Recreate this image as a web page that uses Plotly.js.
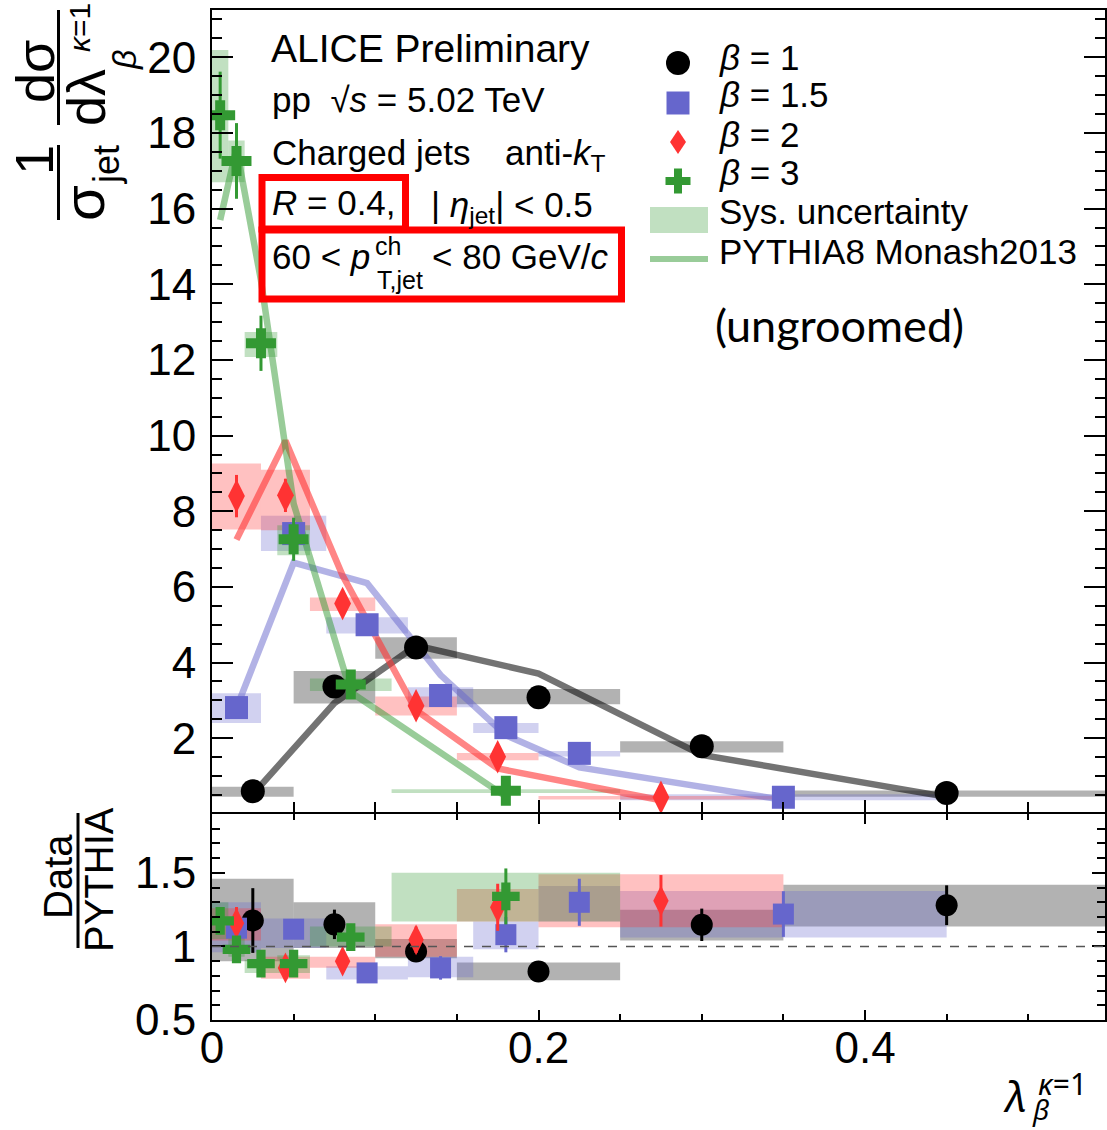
<!DOCTYPE html>
<html><head><meta charset="utf-8">
<script src="https://cdn.plot.ly/plotly-3.0.1.min.js"></script>
<style>html,body{margin:0;padding:0;background:#fff}</style>
</head><body><div id="chart" style="width:1107px;height:1130px"></div>
<script>
// ---------------- data ----------------
// beta = 1
const edgesB1 = [0, 0.05, 0.10, 0.15, 0.25, 0.35, 0.55];
const valB1 = [0.60, 3.37, 4.40, 3.08, 1.79, 0.55];
const errB1 = [0.05, 0.08, 0.08, 0.06, 0.05, 0.03];
const sysLoB1 = [0.45, 2.92, 4.10, 2.90, 1.62, 0.45];
const sysHiB1 = [0.72, 3.78, 4.67, 3.30, 1.92, 0.62];
const pythiaB1 = [0.52, 2.93, 4.45, 3.71, 1.56, 0.45];
const ratioB1 = [1.176, 1.15, 0.966, 0.83, 1.147, 1.28];
const ratioErrB1 = [0.22, 0.10, 0.05, 0.03, 0.11, 0.135];
const rSysLoB1 = [0.90, 0.99, 0.92, 0.77, 1.04, 1.135];
const rSysHiB1 = [1.46, 1.30, 1.05, 0.89, 1.25, 1.42];
// beta = 1.5
const edgesB15 = [0, 0.03, 0.07, 0.12, 0.16, 0.20, 0.25, 0.45];
const valB15 = [2.81, 7.41, 5.00, 3.13, 2.28, 1.60, 0.44];
const errB15 = [0.10, 0.40, 0.10, 0.10, 0.05, 0.05, 0.02];
const sysLoB15 = [2.40, 6.95, 4.77, 2.82, 2.14, 1.52, 0.36];
const sysHiB15 = [3.19, 7.88, 5.20, 3.35, 2.40, 1.66, 0.52];
const pythiaB15 = [2.80, 6.64, 6.10, 3.67, 2.08, 1.23, 0.37];
const ratioB15 = [1.124, 1.117, 0.82, 0.854, 1.08, 1.30, 1.22];
const ratioErrB15 = [0.10, 0.05, 0.05, 0.08, 0.12, 0.16, 0.155];
const rSysLoB15 = [0.96, 0.99, 0.775, 0.79, 0.98, 1.17, 1.06];
const rSysHiB15 = [1.30, 1.19, 0.865, 0.93, 1.17, 1.41, 1.376];
// beta = 2
const edgesB2 = [0, 0.03, 0.06, 0.10, 0.15, 0.20, 0.35];
const valB2 = [8.40, 8.42, 5.56, 2.86, 1.51, 0.44];
const errB2 = [0.56, 0.44, 0.35, 0.10, 0.08, 0.03];
const sysLoB2 = [7.52, 7.50, 5.36, 2.60, 1.42, 0.38];
const sysHiB2 = [9.26, 9.10, 5.72, 3.10, 1.61, 0.47];
const pythiaB2 = [7.25, 9.86, 6.30, 2.74, 1.20, 0.36];
const ratioB2 = [1.158, 0.854, 0.90, 1.045, 1.266, 1.31];
const ratioErrB2 = [0.11, 0.08, 0.05, 0.09, 0.16, 0.175];
const rSysLoB2 = [1.04, 0.78, 0.855, 0.93, 1.17, 1.13];
const rSysHiB2 = [1.26, 0.93, 0.93, 1.15, 1.39, 1.49];
// beta = 3
const edgesB3 = [0, 0.01, 0.02, 0.04, 0.06, 0.11, 0.25];
const valB3 = [18.47, 17.26, 12.44, 7.26, 3.42, 0.61];
const errB3 = [1.15, 1.00, 0.73, 0.57, 0.30, 0.05];
const sysLoB3 = [16.70, 16.70, 12.08, 6.84, 3.25, 0.55];
const sysHiB3 = [20.19, 17.80, 12.74, 7.63, 3.58, 0.65];
const pythiaB3 = [15.70, 17.60, 14.10, 8.20, 3.22, 0.455];
const ratioB3 = [1.174, 0.98, 0.883, 0.883, 1.063, 1.34];
const ratioErrB3 = [0.08, 0.05, 0.04, 0.04, 0.09, 0.19];
const rSysLoB3 = [1.05, 0.93, 0.82, 0.82, 1.00, 1.17];
const rSysHiB3 = [1.30, 1.07, 0.91, 0.94, 1.135, 1.50];

const legendLabels = ['<i>β</i> = 1', '<i>β</i> = 1.5', '<i>β</i> = 2', '<i>β</i> = 3', 'Sys. uncertainty', 'PYTHIA8 Monash2013'];

// ---------------- styles ----------------
const series = [
  {e:edgesB1, v:valB1, err:errB1, lo:sysLoB1, hi:sysHiB1, py:pythiaB1, r:ratioB1, rerr:ratioErrB1, rlo:rSysLoB1, rhi:rSysHiB1,
   col:'#000000', sys:'rgba(0,0,0,0.3)', line:'rgba(0,0,0,0.55)', sym:'circle', size:24},
  {e:edgesB15, v:valB15, err:errB15, lo:sysLoB15, hi:sysHiB15, py:pythiaB15, r:ratioB15, rerr:ratioErrB15, rlo:rSysLoB15, rhi:rSysHiB15,
   col:'#6666cc', sys:'rgba(102,102,204,0.3)', line:'rgba(102,102,204,0.5)', sym:'square', size:23},
  {e:edgesB2, v:valB2, err:errB2, lo:sysLoB2, hi:sysHiB2, py:pythiaB2, r:ratioB2, rerr:ratioErrB2, rlo:rSysLoB2, rhi:rSysHiB2,
   col:'#ff3333', sys:'rgba(255,51,51,0.3)', line:'rgba(255,51,51,0.6)', sym:'diamond-tall', size:24},
  {e:edgesB3, v:valB3, err:errB3, lo:sysLoB3, hi:sysHiB3, py:pythiaB3, r:ratioB3, rerr:ratioErrB3, rlo:rSysLoB3, rhi:rSysHiB3,
   col:'#339933', sys:'rgba(51,153,51,0.3)', line:'rgba(51,153,51,0.5)', sym:'cross', size:25}
];
const centers = e => e.slice(0,-1).map((v,i)=>(v+e[i+1])/2);
const widths = e => e.slice(0,-1).map((v,i)=>e[i+1]-v);

const traces = [];
// systematic boxes
series.forEach(s => {
  traces.push({type:'bar', x:centers(s.e), width:widths(s.e), base:s.lo, y:s.hi.map((h,i)=>h-s.lo[i]),
    marker:{color:s.sys, line:{width:0}}, xaxis:'x', yaxis:'y', showlegend:false, hoverinfo:'skip'});
  traces.push({type:'bar', x:centers(s.e), width:widths(s.e), base:s.rlo, y:s.rhi.map((h,i)=>h-s.rlo[i]),
    marker:{color:s.sys, line:{width:0}}, xaxis:'x2', yaxis:'y2', showlegend:false, hoverinfo:'skip'});
});
// PYTHIA curves
series.forEach(s => {
  traces.push({type:'scatter', mode:'lines', x:centers(s.e), y:s.py, line:{color:s.line, width:6.5},
    xaxis:'x', yaxis:'y', showlegend:false, hoverinfo:'skip'});
});
// data points
series.forEach(s => {
  traces.push({type:'scatter', mode:'markers', x:centers(s.e), y:s.v,
    marker:{symbol:s.sym, size:s.size, color:s.col, line:{width:0}},
    error_y:{type:'data', array:s.err, visible:true, color:s.col, thickness:3, width:0},
    xaxis:'x', yaxis:'y', showlegend:false, hoverinfo:'skip'});
  traces.push({type:'scatter', mode:'markers', x:centers(s.e), y:s.r,
    marker:{symbol:s.sym, size:s.size-2, color:s.col, line:{width:0}},
    error_y:{type:'data', array:s.rerr, visible:true, color:s.col, thickness:3, width:0},
    xaxis:'x2', yaxis:'y2', showlegend:false, hoverinfo:'skip'});
});

// ---------------- layout helpers ----------------
const L = 212, R = 1105, T = 10, B = 1020;
const PX = x => (x - L) / (R - L);
const PY = y => (B - y) / (B - T);
const FONT = 'Liberation Sans, Arial, sans-serif';
const MATHFONT = 'Noto Sans, DejaVu Sans, sans-serif';
function txt(text, x, y, size, opt) {
  return Object.assign({text:text, x:PX(x), y:PY(y), xref:'paper', yref:'paper', showarrow:false,
    xanchor:'left', yanchor:'middle', font:{family:FONT, size:size, color:'#000'}}, opt || {});
}
function rot(text, x, y, size, opt) {
  return txt(text, x, y, size, Object.assign({xanchor:'center', yanchor:'middle', textangle:-90}, opt || {}));
}
function pathOf(pts) {
  return 'M' + pts.map(p => PX(p[0]).toFixed(5) + ',' + PY(p[1]).toFixed(5)).join('L') + 'Z';
}

const annotations = [
  txt('ALICE Preliminary', 269, 48, 39),
  txt('pp  √<i>s</i> = 5.02 TeV', 270, 100, 35),
  txt('Charged jets', 270, 152, 35),
  txt('anti-<i>k</i><sub>T</sub>', 503, 155, 35),
  txt('<i>R</i> = 0.4,', 270, 203, 35),
  txt('| <i>η</i><sub>jet</sub>| < 0.5', 429, 207, 35),
  txt('60 < <i>p</i>', 270, 256, 35),
  txt('ch', 373, 246, 25),
  txt('T,jet', 375, 280, 25),
  txt('< 80 GeV/<i>c</i>', 430, 256, 35),
  txt('(ungroomed)', 713, 325, 45, {font:{family:'Lato, Open Sans, sans-serif', size:45, color:'#000'}}),
  // y title (rotated fraction)
  rot('1', 34, 160, 54),
  rot('σ', 84, 203, 58),
  rot('jet', 106, 165, 36),
  rot('dσ', 35, 72, 54),
  rot('dλ', 86, 98, 54),
  rot('<i>β</i>', 124, 60, 34),
  rot('<i>κ</i>=1', 79, 28, 30),
  // ratio y title
  rot('Data', 58, 877, 40),
  rot('PYTHIA', 99, 880, 40),
  // x title
  txt('<i>λ</i>', 1015, 1095, 42, {xanchor:'center', font:{family:MATHFONT, size:42, color:'#000'}}),
  txt('<i>β</i>', 1040, 1109, 28, {xanchor:'center', font:{family:MATHFONT, size:28, color:'#000'}}),
  txt('<i>κ</i>=1', 1062, 1083, 30, {xanchor:'center', font:{family:MATHFONT, size:30, color:'#000'}})
];
const legendY = [57, 95, 134.5, 172.5, 212, 251];
legendLabels.forEach((t, i) => annotations.push(txt(t, 717, legendY[i], 35)));

const shapes = [
  // red highlight boxes
  {type:'rect', xref:'paper', yref:'paper', x0:PX(262), x1:PX(405.5), y0:PY(177.5), y1:PY(229), line:{color:'#ff0000', width:7}, fillcolor:'rgba(0,0,0,0)'},
  {type:'rect', xref:'paper', yref:'paper', x0:PX(262), x1:PX(621.5), y0:PY(230), y1:PY(299), line:{color:'#ff0000', width:7}, fillcolor:'rgba(0,0,0,0)'},
  // fraction bars of axis titles
  {type:'line', xref:'paper', yref:'paper', x0:PX(58.5), x1:PX(58.5), y0:PY(145), y1:PY(220), line:{color:'#000', width:3}},
  {type:'line', xref:'paper', yref:'paper', x0:PX(58.5), x1:PX(58.5), y0:PY(10), y1:PY(125), line:{color:'#000', width:3}},
  {type:'line', xref:'paper', yref:'paper', x0:PX(78), x1:PX(78), y0:PY(813), y1:PY(948), line:{color:'#000', width:3}},
  // unity line in ratio
  {type:'line', xref:'x2 domain', yref:'y2', x0:0, x1:1, y0:1, y1:1, line:{color:'#555', width:1.5, dash:'dash'}, layer:'above'},
  // legend glyphs
  {type:'circle', xref:'paper', yref:'paper', x0:PX(666), x1:PX(690), y0:PY(75), y1:PY(51), fillcolor:'#000', line:{width:0}},
  {type:'rect', xref:'paper', yref:'paper', x0:PX(666.5), x1:PX(689.5), y0:PY(114.5), y1:PY(91.5), fillcolor:'#6666cc', line:{width:0}},
  {type:'path', xref:'paper', yref:'paper', path:pathOf([[678,130],[686,142],[678,154],[670,142]]), fillcolor:'#ff3333', line:{width:0}},
  {type:'path', xref:'paper', yref:'paper', path:pathOf([[674,168.5],[682,168.5],[682,177],[690.5,177],[690.5,185],[682,185],[682,193.5],[674,193.5],[674,185],[665.5,185],[665.5,177],[674,177]]), fillcolor:'#339933', line:{width:0}},
  {type:'rect', xref:'paper', yref:'paper', x0:PX(650), x1:PX(708), y0:PY(233), y1:PY(207), fillcolor:'rgba(51,153,51,0.3)', line:{width:0}},
  {type:'line', xref:'paper', yref:'paper', x0:PX(650), x1:PX(708), y0:PY(259), y1:PY(259), line:{color:'rgba(51,153,51,0.5)', width:6}}
];

const axisCommon = {showgrid:false, zeroline:false, showline:true, linewidth:2, linecolor:'#000',
  ticks:'inside', tickwidth:2, tickcolor:'#000', tickfont:{family:FONT, size:44, color:'#000'}};
const xrange = [0, 0.547];
const layout = {
  width:1107, height:1130, margin:{l:L, r:1107-R, t:T, b:1130-B, pad:0},
  paper_bgcolor:'#fff', plot_bgcolor:'rgba(0,0,0,0)', barmode:'overlay', hovermode:false, showlegend:false,
  xaxis: Object.assign({}, axisCommon, {domain:[0,1], anchor:'y', range:xrange, showticklabels:false, mirror:true,
    tick0:0, dtick:0.2, ticklen:12, minor:{dtick:0.05, tick0:0, ticklen:10, ticks:'inside', tickwidth:2, tickcolor:'#000'}}),
  yaxis: Object.assign({}, axisCommon, {domain:[(B-812)/(B-T), 1], anchor:'x', range:[0.05, 21.25], mirror:'ticks',
    tick0:0, dtick:2, ticklen:21, ticklabelstandoff:5,
    minor:{dtick:0.5, tick0:0, ticklen:10, ticks:'inside', tickwidth:2, tickcolor:'#000'}}),
  xaxis2: Object.assign({}, axisCommon, {domain:[0,1], anchor:'y2', range:xrange, mirror:'ticks',
    tick0:0, dtick:0.2, ticklen:10, ticklabelstandoff:-12,
    minor:{dtick:0.05, tick0:0, ticklen:6, ticks:'inside', tickwidth:2, tickcolor:'#000'}}),
  yaxis2: Object.assign({}, axisCommon, {domain:[0, (B-814)/(B-T)], anchor:'x2', range:[0.5, 1.9], mirror:'ticks',
    tickmode:'array', tickvals:[0.5, 1, 1.5], ticktext:['0.5', '1', '1.5'], ticklen:13, ticklabelstandoff:5,
    minor:{tickmode:'linear', tick0:0.5, dtick:0.1, ticklen:8, ticks:'inside', tickwidth:2, tickcolor:'#000'}}),
  annotations: annotations,
  shapes: shapes
};
Plotly.newPlot('chart', traces, layout, {staticPlot:true, displayModeBar:false});
</script></body></html>
